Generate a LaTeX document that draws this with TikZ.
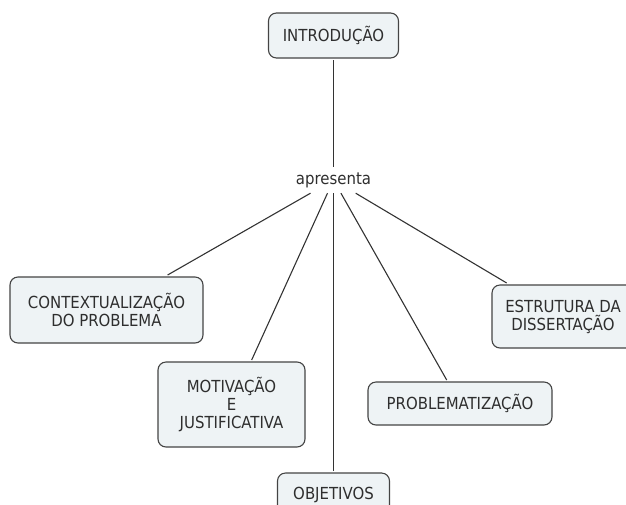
\documentclass[tikz,border=0pt]{standalone}
\usepackage{fontspec}
\setmainfont{DejaVu Sans Condensed}
\definecolor{boxfill}{HTML}{EEF3F5}
\definecolor{boxdraw}{HTML}{444444}
\definecolor{txt}{HTML}{2E2E2E}
\definecolor{linec}{HTML}{333333}
\begin{document}
\begin{tikzpicture}[x=1pt,y=-1pt,
  concept/.style={draw=boxdraw,fill=boxfill,rounded corners=8pt,line width=1.1pt,
    align=center,text=txt,font=\fontsize{16.6}{18}\selectfont,inner sep=0pt,outer sep=2pt},
  linkword/.style={text=txt,font=\fontsize{16.6}{18}\selectfont,minimum width=90pt,minimum height=26pt,inner sep=0pt},
  conn/.style={draw=linec,line width=1.1pt}]
\useasboundingbox (0,0) rectangle (626,504);
\clip (0,0) rectangle (626,504);
\node[concept,minimum width=130pt,minimum height=45pt] (intro) at (333.5,35.5) {INTRODUÇÃO};
\node[linkword] (ap) at (333.5,180) {apresenta};
\node[concept,minimum width=193pt,minimum height=66pt] (ctx) at (106.5,310) {CONTEXTUALIZAÇÃO\\DO PROBLEMA};
\node[concept,minimum width=147pt,minimum height=85pt] (mot) at (231.5,404.5) {MOTIVAÇÃO\\E\\JUSTIFICATIVA};
\node[concept,minimum width=112pt,minimum height=43pt] (obj) at (333.5,494.5) {OBJETIVOS};
\node[concept,minimum width=184pt,minimum height=43pt] (prob) at (460,403.5) {PROBLEMATIZAÇÃO};
\node[concept,minimum width=142pt,minimum height=63pt] (estr) at (563,316.5) {ESTRUTURA DA\\DISSERTAÇÃO};
\draw[conn] (intro) -- (ap);
\draw[conn] (ap) -- (ctx);
\draw[conn] (ap) -- (mot);
\draw[conn] (ap) -- (obj);
\draw[conn] (ap) -- (prob);
\draw[conn] (ap) -- (estr);
\end{tikzpicture}
\end{document}
